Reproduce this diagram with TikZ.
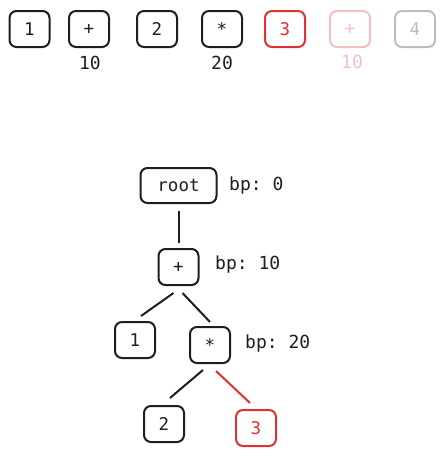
\documentclass[tikz,border=0pt]{standalone}
\usepackage{fontspec}
\setmonofont{DejaVu Sans Mono}
\usetikzlibrary{calc}
\definecolor{ink}{HTML}{1E1E1E}
\definecolor{redink}{HTML}{E03131}
\definecolor{fadered}{HTML}{F5C0C0}
\definecolor{fadegray}{HTML}{BDBDBD}
\begin{document}
\begin{tikzpicture}[x=1pt,y=-1pt,
  tok/.style={draw=ink,line width=2pt,rounded corners=7pt,minimum width=40pt,minimum height=36pt,inner sep=0pt,text=ink,font=\ttfamily\fontsize{17.5}{20}\selectfont},
  lbl/.style={text=ink,font=\ttfamily\fontsize{18}{21}\selectfont,anchor=west,inner sep=0pt},
  num/.style={text=ink,font=\ttfamily\fontsize{18}{21}\selectfont,inner sep=0pt},
  edge/.style={draw=ink,line width=2pt},
  rededge/.style={draw=redink,line width=2pt}]
\useasboundingbox (0,0) rectangle (444,455);
% top row
\node[tok] (t1) at (29.5,29) {1};
\node[tok] (t2) at (89,29) {+};
\node[tok] (t3) at (157,29) {2};
\node[tok] (t4) at (222,29) {*};
\node[tok,draw=redink,text=redink] (t5) at (285,29) {3};
\node[tok,draw=fadered,text=fadered] (t6) at (350,29) {+};
\node[tok,draw=fadegray,text=fadegray] (t7) at (415,29) {4};
\node[num] (n1) at (90,63) {10};
\node[num] (n2) at (222,63) {20};
\node[num,text=fadered] (n3) at (352,62) {10};
% tree
\node[tok,minimum width=76pt,minimum height=35pt] (root) at (178.5,185.5) {root};
\node[lbl] (broot) at (229,185.5) {bp: 0};
\node[tok] (plus) at (178.5,267) {+};
\node[lbl] (bplus) at (215,265) {bp: 10};
\node[tok] (one) at (135,340) {1};
\node[tok] (star) at (210,345) {*};
\node[lbl] (bstar) at (245,344) {bp: 20};
\node[tok] (two) at (164,424) {2};
\node[tok,draw=redink,text=redink] (three) at (256,428) {3};
\draw[edge] ($(root.south)+(0pt,-7pt)$) -- ($(plus.north)+(0pt,5pt)$);
\draw[edge] ($(plus.south)+(-5pt,-7pt)$) -- ($(one.north)+(6pt,5pt)$);
\draw[edge] ($(plus.south)+(4pt,-7pt)$) -- ($(star.north)+(0pt,4pt)$);
\draw[edge] ($(star.south)+(-7pt,-6pt)$) -- ($(two.north)+(6pt,7pt)$);
\draw[rededge] ($(star.south)+(6pt,-7pt)$) -- ($(three.north)+(-6pt,6pt)$);
\end{tikzpicture}
\end{document}
